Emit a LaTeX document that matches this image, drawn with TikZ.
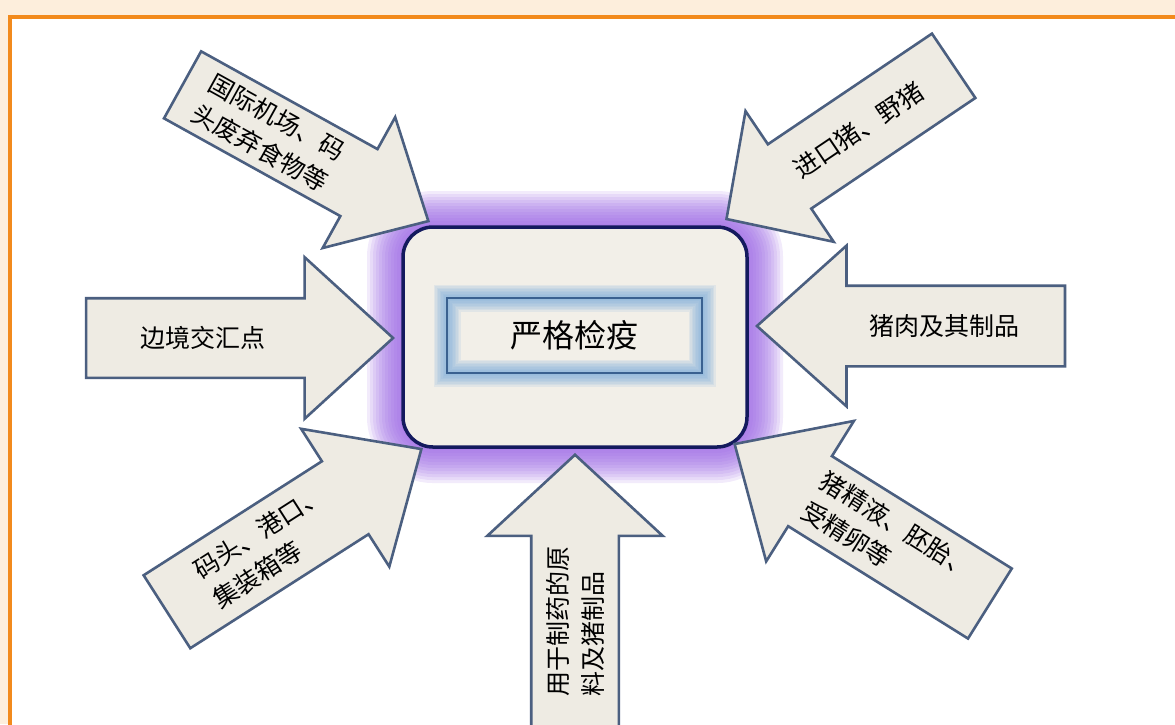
\documentclass[tikz,border=0pt]{standalone}
\usepackage{fontspec}
\newfontfamily\cjk{Noto Sans CJK SC}
\usetikzlibrary{shapes.arrows, calc}

\definecolor{peach}{HTML}{FDEEDC}
\definecolor{frameorange}{HTML}{F28A1C}
\definecolor{arrowfill}{HTML}{EEEBE3}
\definecolor{arrowline}{HTML}{4B5F80}
\definecolor{boxfill}{HTML}{F2EFE8}
\definecolor{boxline}{HTML}{141A5E}
\definecolor{glowpurple}{HTML}{9A62E6}
\definecolor{glowblue}{HTML}{7FAEDC}
\definecolor{checkline}{HTML}{3A6190}

\tikzset{
  inarrow/.style={single arrow, draw=arrowline, fill=arrowfill, line width=2.6pt,
    single arrow head indent=0pt, inner xsep=0pt},
  arrowtext/.style={align=left, inner sep=0pt, font=\cjk\fontsize{25}{35}\selectfont},
  mainbox/.style={draw=boxline, fill=boxfill, line width=3.5pt, rounded corners=30pt,
    minimum width=344pt, minimum height=220pt},
  quarantine/.style={draw=checkline, line width=2.4pt,
    minimum width=255pt, minimum height=75pt, font=\cjk\fontsize{32}{36}\selectfont}
}

\begin{document}
\begin{tikzpicture}[x=1pt, y=-1pt]

  % Page frame
  \useasboundingbox (0,0) rectangle (1175,724);
  \clip (0,0) rectangle (1175,724);
  \fill[peach] (0,0) rectangle (1175,724);
  \fill[white] (10,17) rectangle (1175,724);
  \draw[frameorange, line width=4pt] (10,740) -- (10,17) -- (1190,17);

  % Purple glow round the central box
  \foreach \w in {6,12,...,72}
    \draw[glowpurple, opacity=.12, line width=\w pt, rounded corners=30pt]
      (403,227) rectangle (747,447);

  % Central box
  \node[mainbox] (box) at (575,337) {};

  % Blue glow round the inner frame
  \foreach \w in {3,6,...,27}
    \draw[glowblue, opacity=.14, line width=\w pt] (447,298) rectangle (702,373);
  \node[quarantine] (check) at (574.5,335.5) {严格检疫};

  % Arrows pointing in (shaft width = 2 x inner ysep)
  \node[inarrow, rotate=-29, anchor=tip, minimum height=281pt, inner ysep=37pt,
    single arrow head extend=36.5pt, single arrow tip angle=86.6] (airport) at (430,222) {};
  \node[inarrow, rotate=34, shape border rotate=180, anchor=tip, minimum height=274pt,
    inner ysep=37.5pt, single arrow head extend=40pt, single arrow tip angle=92] (import) at (725,220) {};
  \node[inarrow, anchor=tip, minimum height=307pt, inner ysep=38.5pt,
    single arrow head extend=41pt, single arrow tip angle=84.8] (border) at (395,338) {};
  \node[inarrow, shape border rotate=180, anchor=tip, minimum height=308pt, inner ysep=39pt,
    single arrow head extend=40pt, single arrow tip angle=83.8] (pork) at (755,326) {};
  \node[inarrow, rotate=32.6, anchor=tip, minimum height=302pt, inner ysep=42pt,
    single arrow head extend=38.5pt, single arrow tip angle=84.3] (port) at (423,448) {};
  \node[inarrow, rotate=-32, shape border rotate=180, anchor=tip, minimum height=301pt,
    inner ysep=40pt, single arrow head extend=41.5pt, single arrow tip angle=85.9] (semen) at (733,443) {};
  \node[inarrow, rotate=90, anchor=tip, minimum height=277pt, inner ysep=42.5pt,
    single arrow head extend=44pt, single arrow tip angle=94.5] (drug) at (575,453) {};

  % Labels in the shafts
  \node[arrowtext, rotate=-29] (airporttext) at ($(airport.tail)!0.35!(airport.tip)$)
    {国际机场、码\\头废弃食物等};
  \node[arrowtext, rotate=34] (importtext) at ($(import.tail)!0.42!(import.tip)$)
    {进口猪、野猪};
  \node[arrowtext] (bordertext) at ($(border.tail)!0.38!(border.tip)$) {边境交汇点};
  \node[arrowtext] (porktext) at ($(pork.tail)!0.39!(pork.tip)$) {猪肉及其制品};
  \node[arrowtext, rotate=32.6] (porttext) at ($(port.tail)!0.4!(port.tip)$)
    {码头、港口、\\集装箱等};
  \node[arrowtext, rotate=-32] (sementext) at ($(semen.tail)!0.4!(semen.tip)$)
    {猪精液、胚胎、\\受精卵等};
  \node[arrowtext, rotate=90] (drugtext) at ($(drug.tail)!0.4!(drug.tip)$)
    {用于制药的原\\料及猪制品};

\end{tikzpicture}
\end{document}
